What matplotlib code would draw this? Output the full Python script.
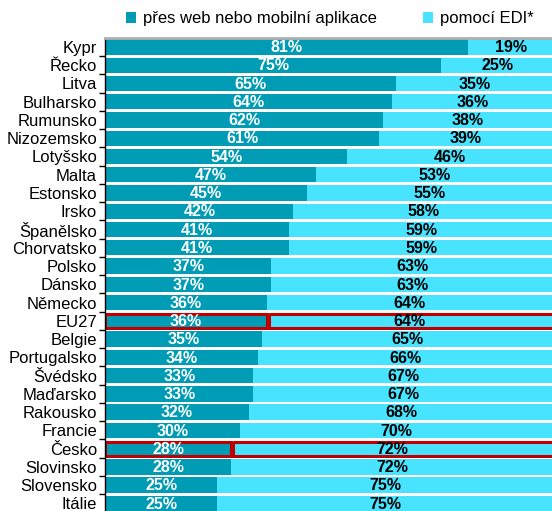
"""Stacked share bars: web/mobile vs EDI."""

import matplotlib

matplotlib.use("Agg")
import matplotlib.pyplot as plt
import numpy as np

countries = [
    "Kypr", "Řecko", "Litva", "Bulharsko", "Rumunsko", "Nizozemsko", "Lotyšsko",
    "Malta", "Estonsko", "Irsko", "Španělsko", "Chorvatsko", "Polsko", "Dánsko",
    "Německo", "EU27", "Belgie", "Portugalsko", "Švédsko", "Maďarsko", "Rakousko",
    "Francie", "Česko", "Slovinsko", "Slovensko", "Itálie",
]
web_share = [81, 75, 65, 64, 62, 61, 54, 47, 45, 42, 41, 41, 37, 37, 36, 36, 35, 34, 33, 33, 32, 30, 28, 28, 25, 25]
edi_share = [19, 25, 35, 36, 38, 39, 46, 53, 55, 58, 59, 59, 63, 63, 64, 64, 65, 66, 67, 67, 68, 70, 72, 72, 75, 75]
highlight = ["EU27", "Česko"]

web_label = "přes web nebo mobilní aplikace"
edi_label = "pomocí EDI*"

plt.rcParams["font.family"] = ["Liberation Sans", "DejaVu Sans"]

TEAL = "#009cb5"
CYAN = "#47e3ff"
RED = "#c00000"

fig = plt.figure(figsize=(5.52, 5.11), dpi=100)
ax = fig.add_axes([0.191, -0.003, 0.811, 0.929])

y = np.arange(len(countries))
web = np.array(web_share, dtype=float) / 100
edi = np.array(edi_share, dtype=float) / 100
h = 0.84

ax.barh(y, web, height=h, color=TEAL, label=web_label)
ax.barh(y, edi, left=web, height=h, color=CYAN, label=edi_label)

for i, name in enumerate(countries):
    ax.text(web[i] / 2, y[i] + 0.04, f"{web_share[i]}%", ha="center", va="center",
            color="white", fontsize=11.5, fontweight="bold")
    ax.text(web[i] + edi[i] / 2, y[i] + 0.04, f"{edi_share[i]}%", ha="center", va="center",
            color="black", fontsize=11.5, fontweight="bold")
    if name in highlight:
        ax.barh(y[i], web[i], height=h * 0.9, fill=False, edgecolor=RED, linewidth=2.2)
        ax.barh(y[i], edi[i], left=web[i] + 0.005, height=h * 0.9, fill=False,
                edgecolor=RED, linewidth=2.2, clip_on=False)

ax.set_xlim(0, 1)
ax.set_ylim(len(countries) - 0.5, -0.5)
ax.set_yticks(y)
ax.set_yticklabels(countries, fontsize=12)
ax.tick_params(axis="y", which="major", length=0, pad=6)
ax.set_yticks(y[:-1] + 0.5, minor=True)
ax.tick_params(axis="y", which="minor", length=4, width=1, direction="out")
ax.set_xticks([])

for side in ["right", "bottom"]:
    ax.spines[side].set_visible(False)
ax.spines["top"].set_color("#b0b0b0")
ax.spines["top"].set_linewidth(2)
ax.spines["left"].set_color("black")
ax.spines["left"].set_linewidth(1)

handles, labels = ax.get_legend_handles_labels()
fig.legend(handles, labels, loc="center", bbox_to_anchor=(0.598, 0.963), ncol=2,
           frameon=False, fontsize=12, handlelength=0.6, handleheight=0.6,
           handletextpad=0.4, columnspacing=2.8)

fig.savefig("out.png", dpi=100)
plt.close(fig)
